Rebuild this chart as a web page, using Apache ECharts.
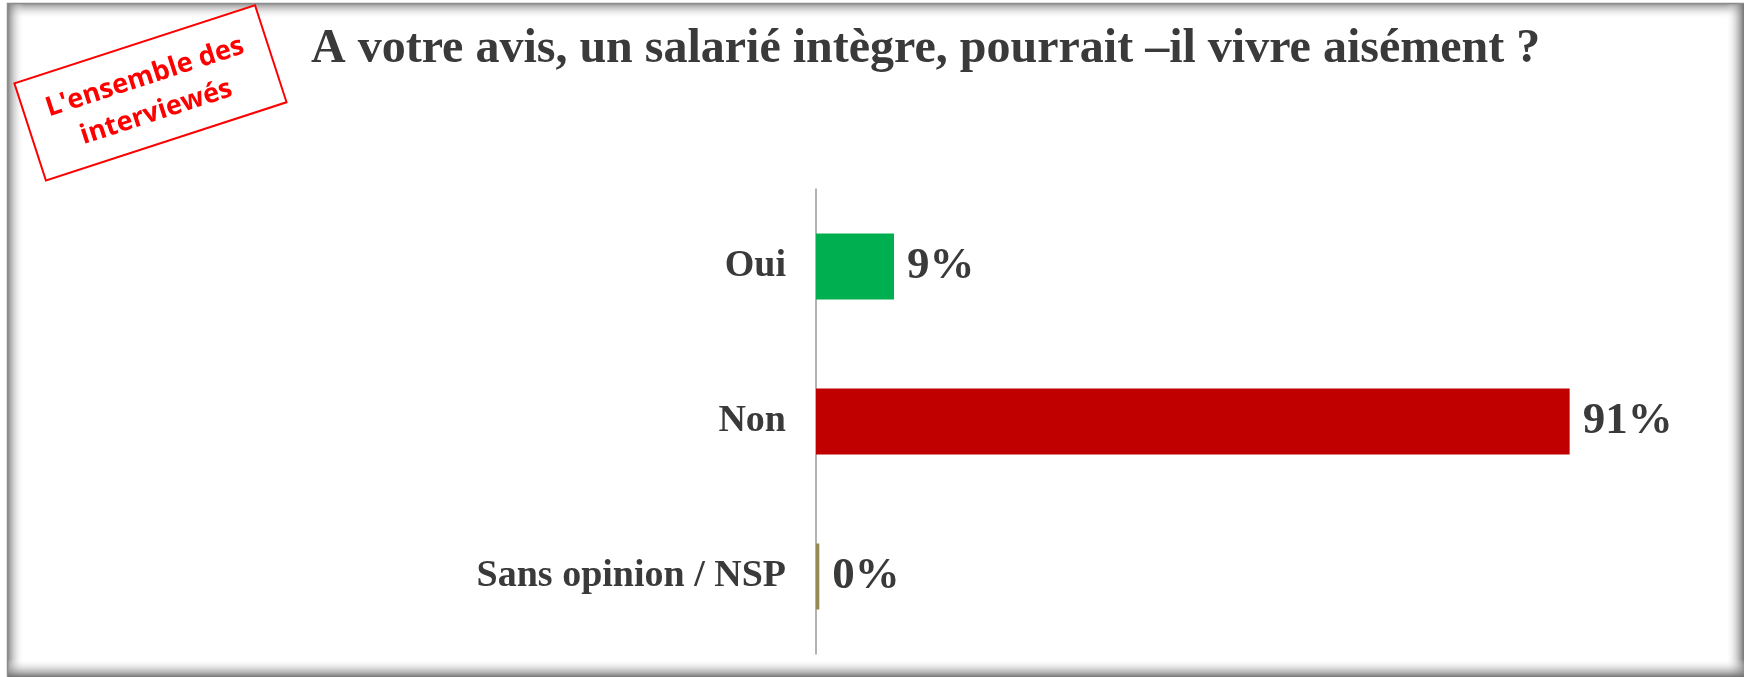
<!DOCTYPE html>
<html>
<head>
<meta charset="utf-8">
<script src="https://cdn.jsdelivr.net/npm/echarts@6/dist/echarts.min.js"></script>
<style>
  html, body { margin: 0; padding: 0; background: #fff; }
  #chart { width: 1744px; height: 677px; }
</style>
</head>
<body>
<div id="chart"></div>
<script>
var titleText = 'A votre avis, un salarié intègre, pourrait \u2013il vivre aisément ?';
var stampText = "L'ensemble des\ninterviewés";
var categories = ['Oui', 'Non', 'Sans opinion / NSP'];
var values = [9.4, 90.8, 0.4];
var barColors = ['#00B050', '#C00000', '#948A54'];

var chart = echarts.init(document.getElementById('chart'), null, { renderer: 'canvas' });

var serif = '"Liberation Serif", "Times New Roman", serif';
var textColor = '#3a3a3a';

// inner shadow of the frame, drawn as gradient strips
function strip(x, y, w, h, x2, y2, dark) {
  return {
    type: 'rect',
    silent: true,
    shape: { x: x, y: y, width: w, height: h },
    style: {
      fill: new echarts.graphic.LinearGradient(0, 0, x2, y2, [
        { offset: 0, color: dark },
        { offset: 1, color: 'rgba(255,255,255,0)' }
      ])
    }
  };
}

var option = {
  backgroundColor: '#fff',
  animation: false,
  title: {
    text: titleText,
    left: 306,
    top: 21,
    textStyle: {
      fontFamily: serif,
      fontWeight: 'bold',
      fontSize: 48,
      color: textColor
    }
  },
  grid: {
    left: 816,
    right: 98,
    top: 189,
    bottom: 23,
    containLabel: false
  },
  xAxis: {
    type: 'value',
    min: 0,
    max: 100,
    show: false
  },
  yAxis: {
    type: 'category',
    data: categories,
    inverse: true,
    axisTick: { show: false },
    axisLine: { lineStyle: { color: '#9a9a9a', width: 1.5 } },
    axisLabel: {
      margin: 30,
      fontFamily: serif,
      fontWeight: 'bold',
      fontSize: 38,
      color: textColor
    }
  },
  series: [{
    type: 'bar',
    barWidth: 66,
    data: values.map(function (v, i) {
      return { value: v, itemStyle: { color: barColors[i] } };
    }),
    label: {
      show: true,
      position: 'right',
      distance: 13,
      formatter: function (p) { return Math.round(p.value) + '%'; },
      fontFamily: serif,
      fontWeight: 'bold',
      fontSize: 45,
      color: textColor
    }
  }],
  graphic: [
    strip(8, 3, 1736, 16, 0, 1, 'rgba(120,120,120,0.85)'),
    strip(8, 3, 16, 674, 1, 0, 'rgba(120,120,120,0.85)'),
    {
      type: 'rect', silent: true,
      shape: { x: 1726, y: 3, width: 18, height: 674 },
      style: {
        fill: new echarts.graphic.LinearGradient(1, 0, 0, 0, [
          { offset: 0, color: 'rgba(110,110,110,0.95)' },
          { offset: 1, color: 'rgba(255,255,255,0)' }
        ])
      }
    },
    {
      type: 'rect', silent: true,
      shape: { x: 8, y: 659, width: 1736, height: 18 },
      style: {
        fill: new echarts.graphic.LinearGradient(0, 1, 0, 0, [
          { offset: 0, color: 'rgba(110,110,110,0.95)' },
          { offset: 1, color: 'rgba(255,255,255,0)' }
        ])
      }
    },
    {
      type: 'polyline', silent: true,
      shape: { points: [[7.5, 677], [7.5, 3.5], [1744, 3.5]] },
      style: { stroke: '#8c8c8c', lineWidth: 1.5, fill: null }
    },
    {
      type: 'group',
      x: 150,
      y: 93,
      rotation: 18 * Math.PI / 180,
      children: [{
        type: 'rect',
        shape: { x: -126, y: -51, width: 253, height: 102 },
        style: { fill: '#fff', stroke: '#FF0000', lineWidth: 2 }
      }, {
        type: 'text',
        x: 0,
        y: 2,
        style: {
          text: stampText,
          align: 'center',
          verticalAlign: 'middle',
          fontFamily: '"Open Sans", "Liberation Sans", sans-serif',
          fontWeight: 'bold',
          fontSize: 27,
          lineHeight: 37,
          fill: '#FF0000'
        }
      }]
    }
  ]
};

chart.setOption(option);
</script>
</body>
</html>
